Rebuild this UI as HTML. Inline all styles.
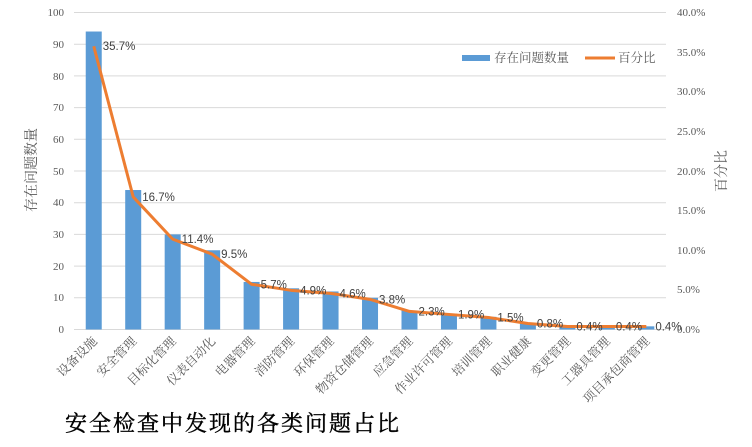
<!DOCTYPE html>
<html><head><meta charset="utf-8"><style>body{margin:0;background:#fff}</style></head><body>
<svg width="752" height="442" xmlns="http://www.w3.org/2000/svg" font-family="Liberation Serif, Noto Serif CJK SC, serif">
<rect width="752" height="442" fill="#fff"/>
<g stroke="#d9d9d9" stroke-width="1">
<line x1="74" x2="666" y1="12.5" y2="12.5"/><line x1="74" x2="666" y1="44.2" y2="44.2"/>
<line x1="74" x2="666" y1="75.9" y2="75.9"/><line x1="74" x2="666" y1="107.6" y2="107.6"/>
<line x1="74" x2="666" y1="139.3" y2="139.3"/><line x1="74" x2="666" y1="171" y2="171"/>
<line x1="74" x2="666" y1="202.7" y2="202.7"/><line x1="74" x2="666" y1="234.4" y2="234.4"/>
<line x1="74" x2="666" y1="266.1" y2="266.1"/><line x1="74" x2="666" y1="297.8" y2="297.8"/>
<line x1="74" x2="666" y1="329.5" y2="329.5"/>
</g>
<g font-size="11" fill="#595959" text-anchor="end">
<text x="64" y="16">100</text><text x="64" y="48">90</text><text x="64" y="80">80</text><text x="64" y="111">70</text><text x="64" y="143">60</text><text x="64" y="175">50</text><text x="64" y="206">40</text><text x="64" y="238">30</text><text x="64" y="270">20</text><text x="64" y="301">10</text><text x="64" y="333">0</text>
</g>
<g font-size="11" fill="#595959">
<text x="677" y="16">40.0%</text><text x="677" y="56">35.0%</text><text x="677" y="95">30.0%</text><text x="677" y="135">25.0%</text><text x="677" y="175">20.0%</text><text x="677" y="214">15.0%</text><text x="677" y="254">10.0%</text><text x="677" y="293">5.0%</text><text x="677" y="333">0.0%</text>
</g>
<text transform="translate(36,170) rotate(-90)" text-anchor="middle" font-size="14" fill="#595959">存在问题数量</text>
<text transform="translate(726,171) rotate(-90)" text-anchor="middle" font-size="14" fill="#595959">百分比</text>
<g fill="#5b9bd5" id="bars"></g>
<polyline id="ln" fill="none" stroke="#ed7d31" stroke-width="3" stroke-linejoin="round"/>
<g id="lbl" font-size="11.5" fill="#404040" font-family="Liberation Sans, sans-serif"></g>
<g id="cat" font-size="12.5" fill="#595959"></g>
<rect x="462" y="55" width="28" height="6" fill="#5b9bd5"/>
<text x="494" y="62" font-size="12.5" fill="#595959">存在问题数量</text>
<line x1="585" x2="615" y1="58" y2="58" stroke="#ed7d31" stroke-width="3"/>
<text x="618" y="62" font-size="12.5" fill="#595959">百分比</text>
<text x="65" y="431" font-size="22" fill="#000" stroke="#000" stroke-width="0.4" letter-spacing="2">安全检查中发现的各类问题占比</text>
</svg>
<script>
var v=[94,44,30,25,15,13,12,10,6,5,4,2,1,1,1],p=["35.7%","16.7%","11.4%","9.5%","5.7%","4.9%","4.6%","3.8%","2.3%","1.9%","1.5%","0.8%","0.4%","0.4%","0.4%"],
c=["设备设施","安全管理","目标化管理","仪表自动化","电器管理","消防管理","环保管理","物资仓储管理","应急管理","作业许可管理","培训管理","职业健康","变更管理","工器具管理","项目承包商管理"];
var ns="http://www.w3.org/2000/svg",b=document.getElementById("bars"),l=document.getElementById("lbl"),ca=document.getElementById("cat"),pts=[];
for(var i=0;i<15;i++){var cx=74+39.47*(i+0.5),h=v[i]*3.17;
var r=document.createElementNS(ns,"rect");r.setAttribute("x",cx-8);r.setAttribute("y",329.5-h);r.setAttribute("width",16);r.setAttribute("height",h);b.appendChild(r);
var y=329.5-v[i]/263*100/40*317;pts.push(cx+","+y);
var t=document.createElementNS(ns,"text");t.setAttribute("x",cx+9);t.setAttribute("y",y+4);t.textContent=p[i];l.appendChild(t);
var k=document.createElementNS(ns,"text");k.setAttribute("transform","translate("+(cx+4)+",342) rotate(-45)");k.setAttribute("text-anchor","end");k.textContent=c[i];ca.appendChild(k);}
document.getElementById("ln").setAttribute("points",pts.join(" "));
</script>
</body></html>
